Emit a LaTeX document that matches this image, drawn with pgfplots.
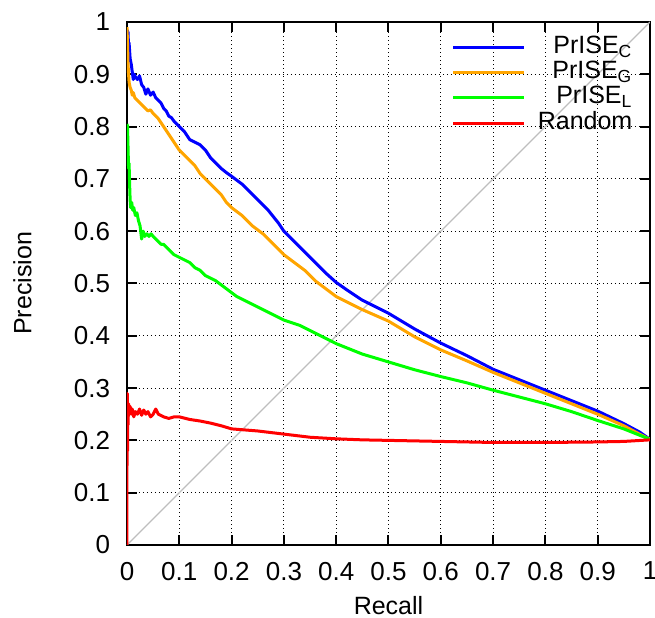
\documentclass[border=0pt]{standalone}
\usepackage{fontspec}
\setmainfont{Liberation Sans}
\usepackage{pgfplots}
\pgfplotsset{compat=1.18}
\usetikzlibrary{calc}

\definecolor{gpblue}{RGB}{0,0,255}
\definecolor{gporange}{RGB}{255,165,0}
\definecolor{gpgreen}{RGB}{0,255,0}
\definecolor{gpred}{RGB}{255,0,0}
\definecolor{diag}{RGB}{190,190,190}

\begin{document}
\fontsize{12pt}{14pt}\selectfont
\begin{tikzpicture}
\begin{axis}[
  width=261.5pt, height=261.5pt, scale only axis,
  xmin=0, xmax=1, ymin=0, ymax=1,
  xtick={0,0.1,0.2,0.3,0.4,0.5,0.6,0.7,0.8,0.9,1},
  ytick={0,0.1,0.2,0.3,0.4,0.5,0.6,0.7,0.8,0.9,1},
  xticklabels={0,0.1,0.2,0.3,0.4,0.5,0.6,0.7,0.8,0.9,1},
  yticklabels={0,0.1,0.2,0.3,0.4,0.5,0.6,0.7,0.8,0.9,1},
  tick label style={font=\fontsize{13pt}{15pt}\selectfont},
  x tick label style={yshift=-4.3pt},
  y tick label style={xshift=-4.3pt},
  xlabel={Recall}, ylabel={Precision},
  label style={font=\fontsize{12.5pt}{14pt}\selectfont},
  xlabel style={at={(axis description cs:0.5,-0.132)}, anchor=base},
  ylabel style={at={(axis description cs:-0.2,0.5)}, anchor=center},
  axis line style={line width=1pt},
  major tick style={line width=1pt, black},
  major tick length=5pt,
  grid=major,
  grid style={black, line width=0.55pt, dash pattern=on 0.7pt off 1.3pt},
  legend style={draw=none, fill=none, at={(rel axis cs:0.967,0.975)}, anchor=north east,
    font=\fontsize{12.5pt}{14pt}\selectfont, row sep=0pt, inner sep=0pt,
    nodes={inner sep=0pt, text height=9pt, text depth=3.6pt}, column sep=6pt},
  legend cell align=right,
  legend image code/.code={\draw[#1, line width=1.5pt] (0pt,0.3pt) -- (35.5pt,0.3pt);},
  every axis plot/.append style={line width=1.5pt, line join=round},
]
\addplot[diag, line width=0.6pt, forget plot] coordinates {(0,0) (1,1)};

\addplot[gpblue] coordinates {
(0.000,0.985) (0.002,0.98) (0.003,0.95) (0.004,0.96) (0.006,0.93) (0.008,0.92)
(0.010,0.905) (0.012,0.89) (0.014,0.90) (0.016,0.895) (0.020,0.89) (0.024,0.897)
(0.028,0.88) (0.032,0.875) (0.036,0.862) (0.040,0.872) (0.045,0.86) (0.050,0.866)
(0.055,0.855) (0.060,0.85) (0.065,0.845) (0.070,0.835) (0.075,0.83) (0.080,0.82)
(0.085,0.817) (0.090,0.81) (0.095,0.805) (0.100,0.80) (0.110,0.79) (0.120,0.775)
(0.130,0.77) (0.140,0.765) (0.150,0.755) (0.160,0.74) (0.170,0.73) (0.180,0.72)
(0.190,0.712) (0.200,0.705) (0.220,0.69) (0.240,0.67) (0.250,0.66) (0.270,0.64)
(0.290,0.615) (0.300,0.60) (0.320,0.58) (0.340,0.56) (0.360,0.54) (0.380,0.52)
(0.400,0.502) (0.420,0.488) (0.450,0.468) (0.500,0.443) (0.550,0.413) (0.600,0.386)
(0.650,0.362) (0.700,0.336) (0.750,0.316) (0.800,0.296) (0.850,0.276) (0.900,0.256)
(0.950,0.232) (0.980,0.216) (1.000,0.202)};
\addlegendentry{PrISE\textsubscript{C}}

\addplot[gporange] coordinates {
(0.000,0.99) (0.001,0.96) (0.002,0.92) (0.003,0.90) (0.004,0.885) (0.006,0.875)
(0.008,0.87) (0.010,0.86) (0.012,0.865) (0.015,0.855) (0.020,0.85) (0.025,0.845)
(0.030,0.84) (0.035,0.835) (0.040,0.83) (0.045,0.832) (0.050,0.825) (0.060,0.815)
(0.070,0.80) (0.080,0.785) (0.090,0.77) (0.100,0.755) (0.110,0.745) (0.120,0.735)
(0.130,0.725) (0.140,0.71) (0.150,0.70) (0.160,0.69) (0.170,0.68) (0.180,0.67)
(0.190,0.655) (0.200,0.645) (0.220,0.63) (0.240,0.61) (0.260,0.595) (0.280,0.575)
(0.300,0.555) (0.320,0.54) (0.340,0.525) (0.360,0.505) (0.380,0.49) (0.400,0.475)
(0.450,0.45) (0.500,0.428) (0.550,0.398) (0.600,0.373) (0.650,0.352) (0.700,0.33)
(0.750,0.31) (0.800,0.29) (0.850,0.27) (0.900,0.25) (0.950,0.228) (0.980,0.212)
(1.000,0.202)};
\addlegendentry{PrISE\textsubscript{G}}

\addplot[gpgreen] coordinates {
(0.000,0.805) (0.001,0.80) (0.002,0.76) (0.003,0.72) (0.004,0.73) (0.005,0.69)
(0.006,0.66) (0.007,0.645) (0.009,0.655) (0.011,0.64) (0.013,0.645) (0.016,0.63)
(0.019,0.635) (0.022,0.62) (0.025,0.61) (0.028,0.585) (0.031,0.60) (0.034,0.59)
(0.038,0.595) (0.042,0.59) (0.046,0.595) (0.050,0.59) (0.055,0.585) (0.060,0.58)
(0.065,0.575) (0.070,0.575) (0.080,0.565) (0.090,0.555) (0.100,0.55) (0.110,0.545)
(0.120,0.54) (0.130,0.53) (0.140,0.525) (0.150,0.515) (0.170,0.505) (0.190,0.49)
(0.210,0.475) (0.230,0.465) (0.250,0.455) (0.270,0.445) (0.300,0.43) (0.330,0.42)
(0.360,0.405) (0.400,0.385) (0.450,0.365) (0.500,0.35) (0.550,0.335) (0.600,0.322)
(0.650,0.31) (0.700,0.296) (0.750,0.283) (0.800,0.27) (0.850,0.255) (0.900,0.238)
(0.950,0.222) (0.980,0.21) (1.000,0.202)};
\addlegendentry{PrISE\textsubscript{L}}

\addplot[gpred] coordinates {
(0.0000,0.0) (0.0000,0.15) (0.0005,0.29) (0.0010,0.18) (0.0015,0.27) (0.002,0.23)
(0.003,0.27) (0.004,0.25) (0.006,0.265) (0.008,0.25) (0.010,0.26) (0.013,0.245)
(0.016,0.255) (0.020,0.25) (0.024,0.26) (0.028,0.248) (0.032,0.258) (0.036,0.25)
(0.040,0.255) (0.045,0.245) (0.050,0.25) (0.055,0.26) (0.060,0.25) (0.070,0.245)
(0.080,0.242) (0.090,0.245) (0.100,0.245) (0.120,0.24) (0.140,0.237) (0.160,0.233)
(0.180,0.228) (0.200,0.222) (0.250,0.218) (0.300,0.212) (0.350,0.206) (0.400,0.203)
(0.450,0.201) (0.500,0.200) (0.600,0.198) (0.700,0.196) (0.800,0.196) (0.900,0.197)
(0.950,0.198) (1.000,0.201)};
\addlegendentry{Random}
\end{axis}
\pgfresetboundingbox
\path[use as bounding box] ($(current axis.south west)+(-63.5pt,-36.5pt)$) rectangle ($(current axis.north east)+(2.5pt,11pt)$);
\end{tikzpicture}
\end{document}
